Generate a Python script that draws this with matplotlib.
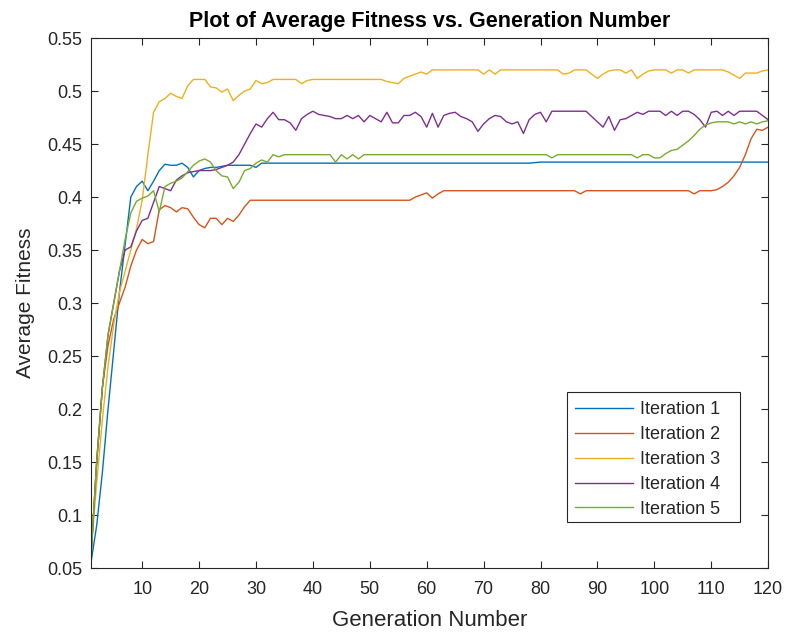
import matplotlib
matplotlib.use("Agg")
import matplotlib.pyplot as plt
from matplotlib.patches import Rectangle
import numpy as np

generations = list(range(1, 121))

iteration1 = [0.055, 0.09, 0.14, 0.20, 0.255, 0.31, 0.355, 0.40, 0.41, 0.415,
              0.406, 0.415, 0.425, 0.431, 0.430, 0.430, 0.432, 0.428, 0.419, 0.425,
              0.427, 0.428, 0.428, 0.429, 0.430, 0.430, 0.430, 0.430, 0.430, 0.428,
              0.432, 0.432, 0.432, 0.432, 0.432, 0.432, 0.432, 0.432, 0.432, 0.432,
              0.432, 0.432, 0.432, 0.432, 0.432, 0.432, 0.432, 0.432, 0.432, 0.432,
              0.432, 0.432, 0.432, 0.432, 0.432, 0.432, 0.432, 0.432, 0.432, 0.432,
              0.432, 0.432, 0.432, 0.432, 0.432, 0.432, 0.432, 0.432, 0.432, 0.432,
              0.432, 0.432, 0.432, 0.432, 0.432, 0.432, 0.432, 0.432, 0.4325, 0.433,
              0.433, 0.433, 0.433, 0.433, 0.433, 0.433, 0.433, 0.433, 0.433, 0.433,
              0.433, 0.433, 0.433, 0.433, 0.433, 0.433, 0.433, 0.433, 0.433, 0.433,
              0.433, 0.433, 0.433, 0.433, 0.433, 0.433, 0.433, 0.433, 0.433, 0.433,
              0.433, 0.433, 0.433, 0.433, 0.433, 0.433, 0.433, 0.433, 0.433, 0.433]

iteration2 = [0.06, 0.15, 0.22, 0.26, 0.285, 0.30, 0.315, 0.335, 0.35, 0.36,
              0.356, 0.358, 0.388, 0.392, 0.39, 0.386, 0.39, 0.389, 0.381, 0.374,
              0.371, 0.38, 0.38, 0.374, 0.38, 0.377, 0.383, 0.391, 0.397, 0.397,
              0.397, 0.397, 0.397, 0.397, 0.397, 0.397, 0.397, 0.397, 0.397, 0.397,
              0.397, 0.397, 0.397, 0.397, 0.397, 0.397, 0.397, 0.397, 0.397, 0.397,
              0.397, 0.397, 0.397, 0.397, 0.397, 0.397, 0.397, 0.40, 0.402, 0.404,
              0.399, 0.403, 0.406, 0.406, 0.406, 0.406, 0.406, 0.406, 0.406, 0.406,
              0.406, 0.406, 0.406, 0.406, 0.406, 0.406, 0.406, 0.406, 0.406, 0.406,
              0.406, 0.406, 0.406, 0.406, 0.406, 0.406, 0.403, 0.406, 0.406, 0.406,
              0.406, 0.406, 0.406, 0.406, 0.406, 0.406, 0.406, 0.406, 0.406, 0.406,
              0.406, 0.406, 0.406, 0.406, 0.406, 0.406, 0.403, 0.406, 0.406, 0.406,
              0.407, 0.41, 0.414, 0.42, 0.428, 0.44, 0.455, 0.464, 0.463, 0.466]

iteration3 = [0.065, 0.13, 0.19, 0.24, 0.28, 0.31, 0.33, 0.35, 0.37, 0.397,
              0.44, 0.48, 0.49, 0.493, 0.498, 0.495, 0.493, 0.505, 0.511, 0.511,
              0.511, 0.504, 0.503, 0.499, 0.502, 0.491, 0.496, 0.50, 0.502, 0.51,
              0.507, 0.508, 0.511, 0.511, 0.511, 0.511, 0.511, 0.507, 0.51, 0.511,
              0.511, 0.511, 0.511, 0.511, 0.511, 0.511, 0.511, 0.511, 0.511, 0.511,
              0.511, 0.511, 0.509, 0.508, 0.507, 0.512, 0.514, 0.516, 0.518, 0.516,
              0.52, 0.52, 0.52, 0.52, 0.52, 0.52, 0.52, 0.52, 0.52, 0.516,
              0.52, 0.516, 0.52, 0.52, 0.52, 0.52, 0.52, 0.52, 0.52, 0.52,
              0.52, 0.52, 0.52, 0.516, 0.517, 0.52, 0.52, 0.52, 0.516, 0.512,
              0.516, 0.519, 0.52, 0.52, 0.517, 0.52, 0.512, 0.516, 0.519, 0.52,
              0.52, 0.52, 0.517, 0.52, 0.52, 0.517, 0.52, 0.52, 0.52, 0.52,
              0.52, 0.52, 0.518, 0.515, 0.512, 0.517, 0.517, 0.517, 0.519, 0.52]

iteration4 = [0.06, 0.15, 0.22, 0.27, 0.30, 0.33, 0.35, 0.353, 0.368, 0.378,
              0.38, 0.395, 0.41, 0.408, 0.406, 0.416, 0.42, 0.423, 0.424, 0.425,
              0.425, 0.425, 0.426, 0.428, 0.43, 0.433, 0.44, 0.45, 0.46, 0.469,
              0.466, 0.474, 0.48, 0.473, 0.473, 0.47, 0.463, 0.474, 0.478, 0.481,
              0.478, 0.477, 0.476, 0.474, 0.474, 0.477, 0.474, 0.477, 0.471, 0.477,
              0.474, 0.471, 0.48, 0.47, 0.47, 0.477, 0.477, 0.48, 0.476, 0.466,
              0.479, 0.466, 0.477, 0.479, 0.48, 0.476, 0.474, 0.471, 0.462, 0.469,
              0.474, 0.477, 0.476, 0.471, 0.469, 0.471, 0.46, 0.473, 0.478, 0.48,
              0.471, 0.481, 0.481, 0.481, 0.481, 0.481, 0.481, 0.481, 0.476, 0.471,
              0.466, 0.476, 0.463, 0.473, 0.474, 0.477, 0.48, 0.478, 0.481, 0.481,
              0.481, 0.477, 0.481, 0.477, 0.481, 0.481, 0.478, 0.473, 0.466, 0.48,
              0.481, 0.477, 0.481, 0.477, 0.481, 0.481, 0.481, 0.481, 0.477, 0.473]

iteration5 = [0.06, 0.15, 0.22, 0.27, 0.30, 0.33, 0.36, 0.385, 0.396, 0.399,
              0.401, 0.406, 0.386, 0.41, 0.413, 0.415, 0.418, 0.424, 0.43, 0.434,
              0.436, 0.433, 0.425, 0.42, 0.419, 0.408, 0.414, 0.425, 0.427, 0.432,
              0.435, 0.433, 0.44, 0.438, 0.44, 0.44, 0.44, 0.44, 0.44, 0.44,
              0.44, 0.44, 0.44, 0.433, 0.44, 0.436, 0.44, 0.436, 0.44, 0.44,
              0.44, 0.44, 0.44, 0.44, 0.44, 0.44, 0.44, 0.44, 0.44, 0.44,
              0.44, 0.44, 0.44, 0.44, 0.44, 0.44, 0.44, 0.44, 0.44, 0.44,
              0.44, 0.44, 0.44, 0.44, 0.44, 0.44, 0.44, 0.44, 0.44, 0.44,
              0.44, 0.437, 0.44, 0.44, 0.44, 0.44, 0.44, 0.44, 0.44, 0.44,
              0.44, 0.44, 0.44, 0.44, 0.44, 0.44, 0.437, 0.44, 0.44, 0.437,
              0.437, 0.441, 0.444, 0.445, 0.449, 0.453, 0.458, 0.464, 0.468, 0.47,
              0.471, 0.471, 0.471, 0.469, 0.471, 0.469, 0.471, 0.469, 0.471, 0.472]

series = [iteration1, iteration2, iteration3, iteration4, iteration5]
labels = ["Iteration 1", "Iteration 2", "Iteration 3", "Iteration 4", "Iteration 5"]
colors = ["#0072BD", "#D95319", "#EDB120", "#7E2F8E", "#77AC30"]

x_ticks = [10, 20, 30, 40, 50, 60, 70, 80, 90, 100, 110, 120]
y_ticks = [0.05, 0.1, 0.15, 0.2, 0.25, 0.3, 0.35, 0.4, 0.45, 0.5, 0.55]
y_ticklabels = ["0.05", "0.1", "0.15", "0.2", "0.25", "0.3", "0.35", "0.4", "0.45", "0.5", "0.55"]

plt.rcParams['font.family'] = ['Liberation Sans', 'DejaVu Sans']

fig = plt.figure(figsize=(7.87, 6.35), dpi=100)
ax = fig.add_axes([0.1156, 0.1055, 0.8604, 0.8345])

for ys, lab, c in zip(series, labels, colors):
    ax.plot(generations, ys, color=c, linewidth=1.0, label=lab)

ax.set_xlim(1, 120)
ax.set_ylim(0.05, 0.55)
ax.set_xticks(x_ticks)
ax.set_yticks(y_ticks)
ax.set_yticklabels(y_ticklabels)

tc = "#262626"
ax.tick_params(direction='in', length=5, width=0.8, colors=tc, labelsize=13,
               top=True, right=True, labeltop=False, labelright=False)
ax.tick_params(axis='x', pad=9)
ax.tick_params(axis='y', pad=6)
for sp in ax.spines.values():
    sp.set_color(tc)
    sp.set_linewidth(0.8)

ax.set_xlabel("Generation Number", fontsize=16, color=tc, labelpad=9)
ax.set_ylabel("Average Fitness", fontsize=15, color=tc, labelpad=9)
ax.set_title("Plot of Average Fitness vs. Generation Number", fontsize=15.5,
             fontweight='bold', color='black', pad=8)

# legend box (MATLAB style: extra padding on the right)
box = Rectangle((0.703, 0.087), 0.256, 0.245, transform=ax.transAxes,
                facecolor='white', edgecolor=tc, linewidth=0.8, zorder=4)
ax.add_patch(box)
leg = ax.legend(loc='upper left', bbox_to_anchor=(0.715, 0.3145), fontsize=13,
                frameon=False, handlelength=3.2, handletextpad=0.4,
                labelspacing=0.435, borderpad=0.0, borderaxespad=0.0)
leg.set_zorder(5)
for t in leg.get_texts():
    t.set_color(tc)

fig.savefig("out.png", dpi=100, facecolor='white')
